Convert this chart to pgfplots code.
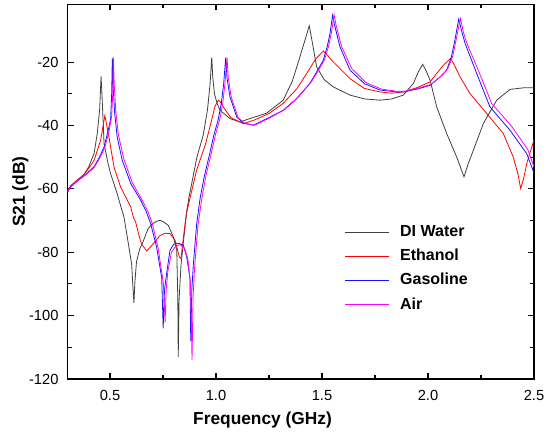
\documentclass[border=0pt]{standalone}
\usepackage{pgfplots}
\pgfplotsset{compat=1.18}
\usepackage{fontspec}
\setmainfont{Liberation Sans}
\definecolor{cwater}{rgb}{0.25,0.25,0.25}
\definecolor{ceth}{rgb}{1,0,0}
\definecolor{cgas}{rgb}{0.08,0.08,1}
\definecolor{cair}{rgb}{1,0,1}
\begin{document}
\begin{tikzpicture}
\begin{axis}[
  scale only axis,
  width=349.8pt, height=280.9pt,
  xmin=0.3, xmax=2.5, ymin=-120, ymax=-1.8,
  xtick={0.5,1.0,1.5,2.0,2.5},
  minor x tick num=1,
  ytick={-120,-100,-80,-60,-40,-20},
  minor y tick num=1,
  tick align=inside,
  major tick length=4.5pt,
  minor tick length=3pt,
  axis line style={line width=0.9pt},
  every tick/.style={line width=0.8pt, black},
  tick label style={font=\fontsize{11}{13}\selectfont},
  /pgf/number format/assume math mode=true,
  xticklabel style={/pgf/number format/.cd, fixed, fixed zerofill, precision=1, /tikz/.cd, yshift=-5pt},
  yticklabel style={xshift=-3.3pt},
  xlabel={\textbf{Frequency (GHz)}},
  ylabel={\textbf{S21 (dB)}},
  xlabel style={at={(rel axis cs:0.418,0)}, anchor=center, yshift=-31pt, font=\fontsize{13}{15}\selectfont},
  ylabel style={at={(rel axis cs:0,0.5)}, anchor=center, yshift=35.3pt, font=\fontsize{13}{15}\selectfont},
  legend style={draw=none, fill=none, at={(rel axis cs:0.585,0.425)}, anchor=north west,
    font=\bfseries\fontsize{12}{14}\selectfont, row sep=4pt},
  legend cell align=left,
  legend image code/.code={\path[#1] (0pt,0pt); \draw[#1] (0pt,0pt) -- (33pt,0pt); \draw[#1] (0pt,0pt) -- (33pt,0pt); \path (39pt,0pt);},
  every axis plot/.append style={line width=0.6pt},
]
\addplot[draw=cwater] coordinates {
(0.30,-60.5)(0.315,-59)(0.35,-57)(0.377,-55.5)(0.40,-53)(0.425,-48.8)(0.44,-42.5)(0.451,-35.2)(0.458,-24.5)(0.462,-30)(0.468,-39)(0.472,-45.7)(0.491,-52)(0.503,-55.2)(0.534,-61.5)(0.547,-64.6)(0.566,-68.9)(0.579,-74.1)(0.602,-83.6)(0.61,-93)(0.613,-96)(0.617,-90)(0.625,-83)(0.64,-79)(0.657,-76.5)(0.68,-72.5)(0.697,-71.2)(0.72,-70.2)(0.736,-69.9)(0.755,-70.5)(0.775,-71.5)(0.799,-75.2)(0.815,-79.4)(0.82,-95)(0.822,-113)(0.826,-95)(0.835,-84)(0.846,-77)(0.862,-67)(0.873,-62.5)(0.885,-58.5)(0.91,-50)(0.94,-43)(0.96,-35)(0.972,-27)(0.98,-18.5)(0.985,-25)(0.993,-30)(1.005,-33)(1.019,-35.2)(1.066,-37.8)(1.113,-38.9)(1.16,-37.8)(1.239,-36.1)(1.317,-32)(1.36,-26)(1.396,-18.3)(1.42,-13)(1.44,-8.5)(1.455,-14)(1.475,-21.5)(1.51,-25.5)(1.553,-27.8)(1.632,-30.4)(1.70,-31.6)(1.774,-32)(1.83,-31.6)(1.884,-30.4)(1.931,-26.7)(1.955,-23)(1.975,-20.7)(1.99,-22.5)(2.01,-25.7)(2.041,-34.1)(2.088,-42.5)(2.135,-49.9)(2.17,-56.2)(2.19,-52)(2.214,-47.8)(2.261,-39.4)(2.324,-32)(2.387,-28.6)(2.45,-28.1)(2.50,-28.1)
};
\addlegendentry{DI Water}
\addplot[draw=ceth] coordinates {
(0.30,-60.8)(0.315,-59)(0.35,-57)(0.377,-55.5)(0.40,-53.5)(0.425,-51)(0.456,-44.6)(0.468,-40)(0.476,-36.8)(0.482,-39)(0.495,-43.6)(0.519,-53.1)(0.55,-59.4)(0.598,-65.7)(0.61,-68.9)(0.621,-70.5)(0.642,-76)(0.65,-77.5)(0.673,-79.6)(0.688,-78.5)(0.704,-77.3)(0.736,-74.7)(0.76,-74)(0.783,-74.1)(0.807,-76.2)(0.827,-81.5)(0.835,-82)(0.846,-75.5)(0.86,-68)(0.877,-63)(0.909,-54)(0.95,-46)(0.975,-39.5)(0.995,-34)(1.011,-32)(1.02,-32.5)(1.034,-34.1)(1.07,-37.5)(1.129,-39.4)(1.18,-38.3)(1.25,-36.2)(1.317,-33)(1.38,-28.5)(1.428,-23.6)(1.47,-19)(1.506,-16.5)(1.525,-17.8)(1.553,-19.9)(1.632,-25.2)(1.70,-28.3)(1.774,-29.4)(1.83,-29.8)(1.884,-29.4)(1.95,-28)(2.01,-26.2)(2.072,-21)(2.107,-18.8)(2.125,-21)(2.151,-24.6)(2.198,-29.9)(2.277,-36.2)(2.355,-42.5)(2.402,-49.9)(2.425,-55.5)(2.437,-59.9)(2.45,-57)(2.466,-52)(2.50,-44.5)
};
\addlegendentry{Ethanol}
\addplot[draw=cgas] coordinates {
(0.30,-61)(0.315,-59.3)(0.35,-57.3)(0.377,-56)(0.40,-54.5)(0.425,-53)(0.45,-50)(0.472,-46.8)(0.49,-42)(0.503,-38)(0.508,-30)(0.511,-18.8)(0.515,-28)(0.522,-36)(0.534,-43.6)(0.558,-51)(0.598,-58.3)(0.645,-63.6)(0.67,-67)(0.692,-71)(0.72,-78.4)(0.744,-88)(0.751,-104)(0.757,-92)(0.767,-86.8)(0.783,-79.4)(0.80,-77.5)(0.815,-77.1)(0.83,-77.3)(0.846,-77.8)(0.862,-81.5)(0.877,-88)(0.881,-108)(0.886,-92)(0.893,-84)(0.909,-71)(0.925,-63)(0.945,-56)(0.97,-49)(0.99,-43)(1.011,-38)(1.025,-33)(1.036,-27)(1.046,-18.5)(1.052,-25)(1.066,-31)(1.098,-37.3)(1.13,-39.3)(1.176,-39.9)(1.25,-37.5)(1.317,-35.2)(1.38,-31.5)(1.443,-26.7)(1.48,-22.5)(1.506,-19.4)(1.525,-15)(1.538,-10.9)(1.550,-5.2)(1.56,-8.5)(1.585,-15.2)(1.632,-22.5)(1.70,-26.8)(1.774,-28.8)(1.852,-29.4)(1.884,-29.4)(1.95,-28.5)(2.01,-27.3)(2.06,-24.5)(2.088,-22.5)(2.11,-18.5)(2.127,-13)(2.145,-6.4)(2.16,-10.5)(2.175,-14.1)(2.23,-23.6)(2.292,-34.1)(2.387,-41.5)(2.466,-48.9)(2.50,-55)
};
\addlegendentry{Gasoline}
\addplot[draw=cair] coordinates {
(0.30,-61)(0.315,-59.3)(0.35,-57.3)(0.377,-56)(0.40,-54.7)(0.425,-53.3)(0.45,-50.5)(0.475,-47)(0.495,-42)(0.508,-37)(0.513,-30)(0.516,-18.5)(0.52,-27)(0.528,-36)(0.54,-43)(0.565,-50.5)(0.605,-58)(0.652,-63.6)(0.678,-67)(0.70,-71)(0.728,-79)(0.752,-90)(0.760,-102)(0.765,-92)(0.773,-86)(0.79,-80)(0.81,-78)(0.83,-77.6)(0.85,-78.5)(0.867,-82)(0.88,-90)(0.887,-114)(0.892,-94)(0.899,-85)(0.915,-71.5)(0.932,-63.5)(0.952,-56)(0.977,-49)(0.997,-43)(1.018,-38)(1.032,-33)(1.042,-27)(1.052,-18.5)(1.058,-25)(1.072,-31)(1.104,-37.5)(1.136,-39.3)(1.182,-39.9)(1.256,-37.5)(1.323,-35)(1.386,-31.2)(1.449,-26.3)(1.486,-22.3)(1.512,-19.2)(1.531,-15)(1.545,-10.5)(1.557,-5.0)(1.567,-8.5)(1.592,-15)(1.64,-22)(1.706,-26.4)(1.78,-28.5)(1.852,-29.2)(1.89,-29.2)(1.955,-28.2)(2.015,-27)(2.066,-24.2)(2.094,-22)(2.117,-18)(2.134,-12.5)(2.153,-6.2)(2.167,-10.5)(2.183,-14)(2.24,-23)(2.30,-33)(2.395,-40.3)(2.47,-47.5)(2.50,-53)
};
\addlegendentry{Air}
\coordinate (BL) at (rel axis cs:-0.1449,-0.1495);
\coordinate (TR) at (rel axis cs:1.0279,1.012);
\end{axis}
\pgfresetboundingbox
\path (BL) rectangle (TR);
\end{tikzpicture}
\end{document}
